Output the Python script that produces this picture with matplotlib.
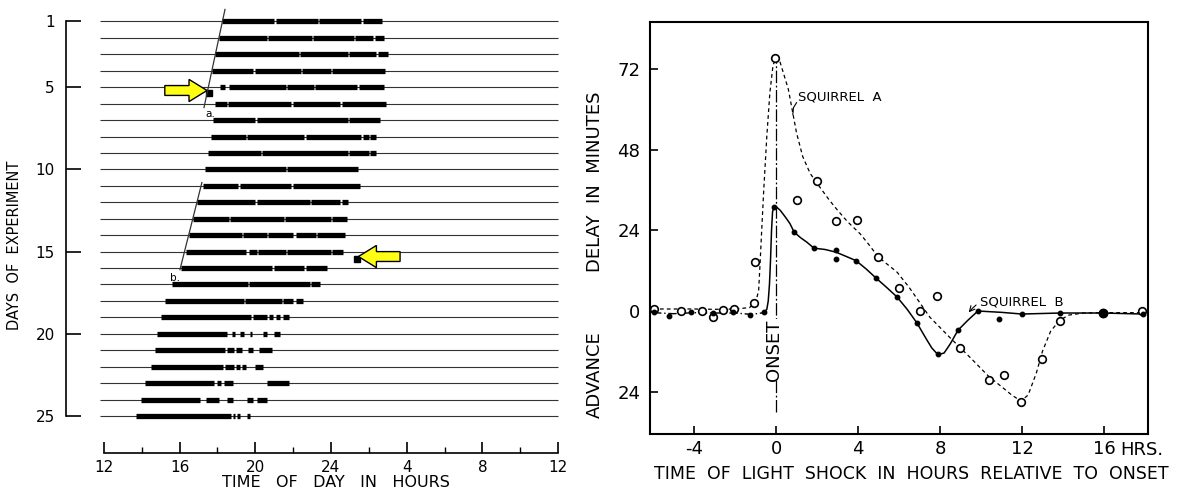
import numpy as np
import matplotlib.pyplot as plt
from matplotlib.patches import FancyArrow

# ---- left panel: actogram (hours of day, 12 -> 36 = noon to noon) ----
days = np.arange(1, 26)
onsets = [18.24, 18.08, 17.87, 17.71, 18.13, 17.87, 17.76, 17.66, 17.50, 17.34,
          17.23, 16.92, 16.70, 16.49, 16.33, 16.07, 15.59, 15.22, 15.01, 14.80,
          14.70, 14.48, 14.17, 13.96, 13.69]
offsets = [26.69, 26.80, 27.00, 26.85, 26.80, 26.90, 26.59, 26.38, 26.38, 25.42,
           25.53, 24.90, 24.84, 24.74, 24.63, 23.79, 23.42, 22.52, 21.80, 21.30,
           20.90, 20.40, 21.80, 20.60, 19.70]
gaps = [
    (1, 21.0, 21.07), (1, 23.3, 23.37), (1, 25.6, 25.67),
    (2, 20.6, 20.67), (2, 23.0, 23.07), (2, 25.2, 25.27), (2, 26.2, 26.3),
    (3, 22.3, 22.37), (3, 24.9, 24.97), (3, 26.4, 26.5),
    (4, 19.9, 19.97), (4, 22.4, 22.47), (4, 24.0, 24.07),
    (5, 18.4, 18.6), (5, 21.6, 21.67), (5, 23.1, 23.17), (5, 25.4, 25.47),
    (6, 18.5, 18.57), (6, 21.9, 21.97), (6, 24.5, 24.57),
    (7, 20.0, 20.07), (7, 24.9, 24.97),
    (8, 19.5, 19.57), (8, 22.6, 22.67), (8, 25.6, 25.67), (8, 26.0, 26.07),
    (9, 20.3, 20.37), (9, 24.9, 24.97), (9, 26.0, 26.07),
    (10, 21.6, 21.67),
    (11, 19.1, 19.17), (11, 21.9, 21.97),
    (12, 20.0, 20.07), (12, 22.9, 22.97), (12, 24.5, 24.57),
    (13, 18.6, 18.67), (13, 21.5, 21.57), (13, 24.0, 24.07),
    (14, 19.3, 19.37), (14, 20.6, 20.67), (14, 22.0, 22.15), (14, 23.2, 23.27),
    (15, 19.5, 19.65), (15, 20.1, 20.17), (15, 21.6, 21.67), (15, 24.0, 24.07),
    (16, 20.9, 20.97), (16, 22.6, 22.67),
    (17, 19.6, 19.67), (17, 22.9, 22.97),
    (18, 19.4, 19.47), (18, 21.4, 21.47), (18, 22.0, 22.15),
    (19, 19.8, 19.9), (19, 20.6, 20.75), (19, 20.95, 21.1), (19, 21.3, 21.45),
    (20, 18.5, 18.75), (20, 18.95, 19.2), (20, 19.4, 19.7), (20, 19.85, 20.4), (20, 20.6, 21.0),
    (21, 18.4, 18.5), (21, 18.9, 19.0), (21, 19.3, 19.6), (21, 19.9, 20.2),
    (22, 18.3, 18.4), (22, 18.9, 19.0), (22, 19.2, 19.3), (22, 19.5, 20.0),
    (23, 17.8, 18.0), (23, 18.2, 18.35), (23, 18.8, 20.6),
    (24, 17.1, 17.4), (24, 18.1, 18.5), (24, 18.8, 19.55), (24, 19.9, 20.1),
    (25, 18.7, 18.8), (25, 18.95, 19.05), (25, 19.2, 19.55),
]
pulse_hour = [17.55, 25.37]
pulse_day = [5.38, 15.43]
day_ticks = [1, 5, 10, 15, 20, 25]
hour_ticks = [12, 16, 20, 24, 28, 32, 36]
hour_labels = ['12', '16', '20', '24', '4', '8', '12']

# ---- right panel: phase response ----
a_x = [-5.95, -4.63, -3.61, -3.07, -2.59, -2.05, -1.07, -1.02, -0.05, 1.02, 2.0,
       2.93, 3.95, 4.98, 6.0, 7.02, 7.85, 8.98, 10.39, 11.12, 11.95, 13.0, 13.85,
       15.95, 17.85]
a_y = [0.6, 0, 0, -1.8, 0.3, 0.6, 2.4, 14.6, 75.3, 33, 38.7, 26.8, 27.1, 16.1, 6.8,
       0, 4.5, -11, -20.5, -19, -27.1, -14.3, -3, -0.6, 0]
b_x = [-5.95, -5.2, -4.15, -3.07, -2.1, -1.27, -0.6, -0.1, 0.88, 1.85, 2.93, 2.93,
       3.9, 4.88, 5.9, 6.88, 7.9, 8.88, 9.85, 10.88, 12.0, 13.85, 15.95, 17.9]
b_y = [-0.3, -1.5, -0.3, -0.6, -0.3, -1.2, -0.3, 31, 23.5, 18.7, 18.2, 15.5, 15,
       9.8, 4.2, -3.6, -12.8, -5.7, 0, -2.4, -0.9, -0.6, -0.6, -0.9]
a_curve_x = [-6.0, -5.0, -4.0, -3.0, -2.0, -1.3, -1.0, -0.85, -0.78, -0.7, -0.6,
             -0.45, -0.3, -0.15, 0.0, 0.15, 0.3, 0.6, 1.0, 1.3, 1.66, 2.0, 2.6,
             3.0, 3.5, 4.1, 4.5, 5.0, 5.9, 6.5, 7.5, 8.5, 9.5, 10.4, 11.0, 11.5,
             11.95, 12.3, 12.7, 13.0, 13.4, 13.85, 14.3, 15.0, 16.0, 17.0, 18.0]
a_curve_y = [0.6, 0.6, 0.6, 0.5, 0.6, 1.0, 2.5, 6, 14, 24, 36, 52, 65, 73, 75.5,
             75, 72, 66, 53, 46, 41, 38, 33, 30, 26.5, 23, 20, 16, 11.6, 7, -1.8,
             -8, -14, -19.6, -22.5, -25, -26.8, -25, -18.5, -12, -6, -2.7, -1.2,
             -0.6, -0.5, -0.5, -0.5]
b_curve_x = [-6.0, -5.0, -4.0, -3.0, -2.0, -1.2, -0.6, -0.45, -0.38, -0.32, -0.27,
             -0.22, -0.17, -0.1, 0.05, 0.2, 0.45, 0.68, 0.88, 1.2, 1.5, 1.85, 2.4,
             2.93, 3.4, 3.9, 4.4, 4.88, 5.4, 5.9, 6.4, 6.88, 7.3, 7.6, 7.9, 8.2,
             8.5, 8.88, 9.37, 9.85, 11.0, 12.0, 13.85, 15.95, 17.9]
b_curve_y = [-0.5, -0.8, -0.5, -0.6, -0.6, -1.0, -0.5, 0.5, 3, 8, 15, 24, 29.5, 31,
             30.8, 30, 28, 26, 23.5, 21.8, 20.5, 18.7, 18.3, 17.5, 16.3, 15, 12.5,
             9.8, 7, 4.2, 0.5, -3.6, -8, -11, -13, -12.5, -9.8, -5.7, -2.7, 0,
             -0.4, -0.9, -0.6, -0.6, -0.9]
rel_ticks = [-4, 0, 4, 8, 12, 16]
rel_labels = ['-4', '0', '4', '8', '12', '16']
min_ticks = [-24, 0, 24, 48, 72]
min_labels = ['24', '0', '24', '48', '72']

W, H = 1182, 490
fig = plt.figure(figsize=(W / 100, H / 100), dpi=100)

# ================= left panel =================
ax1 = fig.add_axes([66 / W, 1 - 453 / H, 494 / W, 448 / H])
ax1.set_xlim(10, 36.1)
ax1.set_ylim(27.25, 0)

ax1.hlines(days, 11.8, 36.0, color='#333333', lw=0.8)
for d, on, off in zip(days, onsets, offsets):
    segs = [(on, off)]
    for gd, g0, g1 in gaps:
        if gd != d:
            continue
        new = []
        for s, e in segs:
            if g1 <= s or g0 >= e:
                new.append((s, e))
            else:
                if g0 > s:
                    new.append((s, g0))
                if g1 < e:
                    new.append((g1, e))
        segs = new
    for s, e in segs:
        ax1.plot([s, e], [d, d], color='black', lw=3.8, solid_capstyle='butt')

ax1.plot(pulse_hour, pulse_day, 's', color='black', ms=4.5)

# slanted onset guide lines
ax1.plot([18.4, 17.29], [0.27, 6.24], color='#333333', lw=0.9)
ax1.plot([17.18, 16.02], [10.8, 16.1], color='#333333', lw=0.9)
ax1.text(17.35, 6.6, 'a.', fontsize=7.5, ha='left', va='center')
ax1.text(15.5, 16.6, 'b.', fontsize=7.5, ha='left', va='center')

ax1.add_patch(FancyArrow(15.22, 5.2, 17.45 - 15.22, 0, width=0.6, head_width=1.35,
                         head_length=0.95, length_includes_head=True,
                         fc='#ffff14', ec='black', lw=1, zorder=5))
ax1.add_patch(FancyArrow(27.65, 15.3, 25.45 - 27.65, 0, width=0.6, head_width=1.35,
                         head_length=0.95, length_includes_head=True,
                         fc='#ffff14', ec='black', lw=1, zorder=5))

for s in ['top', 'right']:
    ax1.spines[s].set_visible(False)
ax1.spines['left'].set_bounds(1, 25)
ax1.spines['bottom'].set_bounds(12, 36)
ax1.spines['left'].set_linewidth(1.2)
ax1.spines['bottom'].set_linewidth(1.2)
ax1.set_yticks(day_ticks)
ax1.set_yticklabels([str(d) for d in day_ticks])
ax1.set_xticks(hour_ticks)
ax1.set_xticklabels(hour_labels)
ax1.set_xticks(np.arange(14, 36, 4), minor=True)
ax1.tick_params(axis='y', direction='in', length=11, width=1.2, pad=8, labelsize=11)
ax1.tick_params(axis='x', which='major', direction='in', length=8, width=1.2,
                pad=5, labelsize=11)
ax1.tick_params(axis='x', which='minor', direction='in', length=4, width=1.0)

fig.text(15 / W, 1 - 245 / H, 'DAYS  OF  EXPERIMENT', rotation=90, ha='center',
         va='center', fontsize=10.5)
fig.text(336 / W, 1 - 482 / H, 'TIME   OF   DAY   IN   HOURS', ha='center',
         va='center', fontsize=11.5)

# ================= right panel =================
ax2 = fig.add_axes([650 / W, 1 - 434 / H, 498 / W, 412 / H])
ax2.set_xlim(-6.15, 18.15)
ax2.set_ylim(-36.6, 86)

ax2.plot(a_curve_x, a_curve_y, color='black', lw=0.9, ls=(0, (3, 2.5)))
ax2.plot(b_curve_x[:7], b_curve_y[:7], color='black', lw=1.0, ls=(0, (6, 2, 1, 2)))
ax2.plot(b_curve_x[6:], b_curve_y[6:], color='black', lw=1.1)
ax2.plot(a_x, a_y, 'o', mfc='white', mec='black', mew=1.2, ms=5.5, zorder=4)
ax2.plot(b_x, b_y, 'o', color='black', ms=3.2, zorder=4)
ax2.plot([15.95], [-0.6], 'o', color='black', ms=6, zorder=4)

ax2.plot([0, 0], [-30, 74], color='black', lw=0.9, ls=(0, (10, 2, 1.5, 2)))
ax2.text(-0.1, -11.6, 'ONSET', rotation=90, ha='center', va='center', fontsize=13,
         bbox=dict(fc='white', ec='none', pad=0.5), zorder=3)

ax2.text(1.05, 63.7, 'SQUIRREL  A', fontsize=9.5, ha='left', va='center')
ax2.plot([1.0, 0.85, 0.82], [62.0, 60.5, 58.5], color='black', lw=0.8)
ax2.annotate('SQUIRREL  B', xy=(9.4, -0.4), xytext=(9.95, 2.6), fontsize=9.5,
             ha='left', va='center',
             arrowprops=dict(arrowstyle='->', lw=0.8, shrinkA=1, shrinkB=0,
                             connectionstyle='arc3,rad=0.4'))

for s in ax2.spines.values():
    s.set_linewidth(1.5)
ax2.set_xticks(rel_ticks)
ax2.set_xticklabels(rel_labels)
ax2.set_yticks(min_ticks)
ax2.set_yticklabels(min_labels)
ax2.tick_params(axis='both', direction='in', length=6, width=1.2, labelsize=13)
ax2.tick_params(axis='x', pad=4)
ax2.tick_params(axis='y', pad=7)
ax2.text(16.78, -0.038, 'HRS.', transform=ax2.get_xaxis_transform(), ha='left',
         va='center', fontsize=13)

fig.text(595 / W, 1 - 182 / H, 'DELAY  IN  MINUTES', rotation=90, ha='center',
         va='center', fontsize=13)
fig.text(595 / W, 1 - 375 / H, 'ADVANCE', rotation=90, ha='center', va='center',
         fontsize=13)
fig.text(911 / W, 1 - 474 / H, 'TIME  OF  LIGHT  SHOCK  IN  HOURS  RELATIVE  TO  ONSET',
         ha='center', va='center', fontsize=12.5)

fig.savefig('out.png', dpi=100)
